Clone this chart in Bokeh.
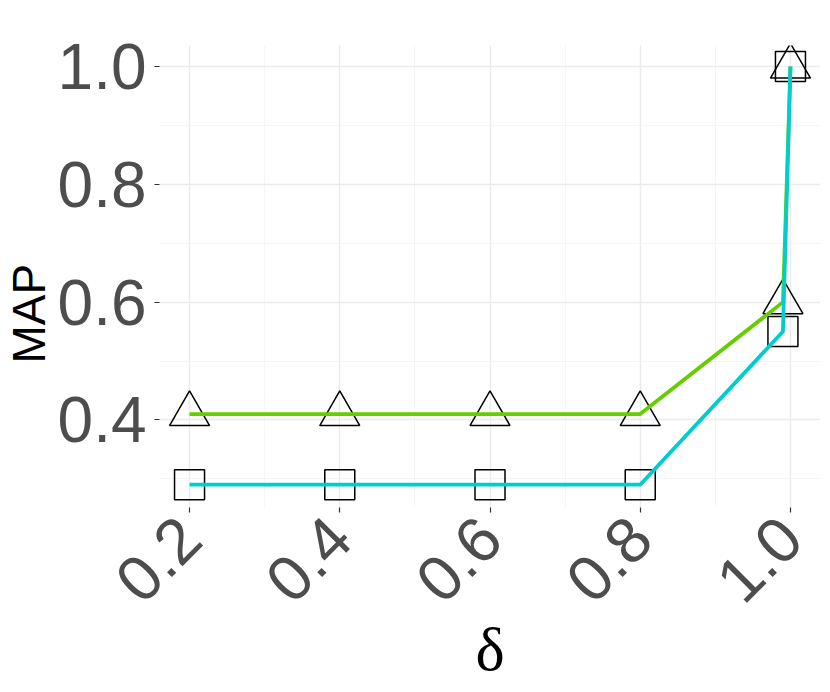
from math import pi
from bokeh.plotting import figure
from bokeh.models import FixedTicker, Range1d, Title, PrintfTickFormatter
from bokeh.embed import file_html
from bokeh.resources import INLINE

# ---- data ----
x_vals = [0.2, 0.4, 0.6, 0.8, 0.99, 1.0]
series_green = [0.41, 0.41, 0.41, 0.41, 0.60, 1.0]
series_cyan = [0.29, 0.29, 0.29, 0.29, 0.55, 1.0]
x_ticks = [0.2, 0.4, 0.6, 0.8, 1.0]
x_minor = [0.3, 0.5, 0.7, 0.9]
y_ticks = [0.4, 0.6, 0.8, 1.0]
y_minor = [0.3, 0.5, 0.7, 0.9]
x_title = "δ"
y_title = "MAP"

GREEN = "#66CD00"
CYAN = "#00CDCD"
TICK_GREY = "#4D4D4D"

p = figure(width=822, height=692, output_backend="svg", toolbar_location=None,
           x_range=Range1d(0.16, 1.04), y_range=Range1d(0.2513, 1.0357),
           min_border_left=159, min_border_right=2, min_border_top=45, min_border_bottom=185)
p.outline_line_color = None
p.background_fill_color = "white"
p.border_fill_color = "white"

# axes
p.xaxis.ticker = FixedTicker(ticks=x_ticks, minor_ticks=x_minor)
p.yaxis.ticker = FixedTicker(ticks=y_ticks, minor_ticks=y_minor)
for ax in (p.xaxis[0], p.yaxis[0]):
    ax.formatter = PrintfTickFormatter(format="%.1f")
    ax.axis_line_color = None
    ax.minor_tick_line_color = None
    ax.major_tick_line_color = "#333333"
    ax.major_tick_line_width = 1.2
    ax.major_tick_in = 0
    ax.major_tick_out = 5
    ax.major_label_text_font = "Liberation Sans"
    ax.major_label_text_font_size = "64px"
    ax.major_label_text_color = TICK_GREY
    ax.major_label_standoff = 8

p.xaxis.major_label_orientation = pi / 4
p.xaxis.major_label_standoff = 15
p.xaxis.axis_label = x_title
p.xaxis.axis_label_text_font = "Liberation Serif"
p.xaxis.axis_label_text_font_style = "normal"
p.xaxis.axis_label_text_font_size = "62px"
p.xaxis.axis_label_text_color = "black"
p.xaxis.axis_label_standoff = -10

# y axis title as a left-side title placed like the reference
p.add_layout(Title(text=y_title, align="left", offset=144,
                   text_font="Liberation Sans", text_font_style="normal",
                   text_font_size="46px", text_color="black", standoff=0), "left")

# grid
for g in (p.xgrid[0], p.ygrid[0]):
    g.grid_line_color = "#EBEBEB"
    g.grid_line_width = 1.4
    g.minor_grid_line_color = "#F2F2F2"
    g.minor_grid_line_width = 0.8

# markers (drawn below the lines)
p.scatter(x_vals, series_green, marker="triangle", size=40, fill_color=None,
          line_color="black", line_width=1.5)
p.scatter(x_vals, series_cyan, marker="square", size=30, fill_color=None,
          line_color="black", line_width=1.5)

# lines
p.line(x_vals, series_green, line_color=GREEN, line_width=3.8)
p.line(x_vals, series_cyan, line_color=CYAN, line_width=3.8)

open("out.html", "w").write(file_html(p, INLINE))
